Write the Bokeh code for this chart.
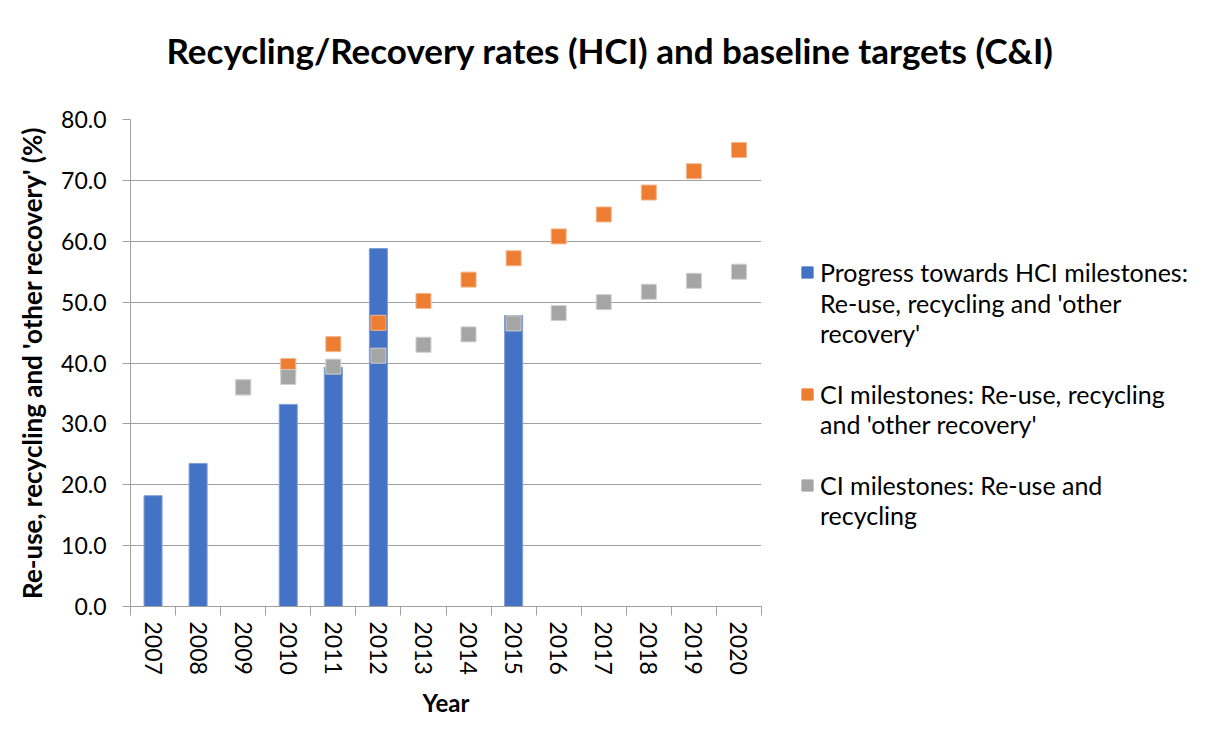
import numpy as np
from bokeh.plotting import figure
from bokeh.models import (ColumnDataSource, FixedTicker, NumeralTickFormatter,
                          Range1d, Legend, LegendItem)
from bokeh.embed import file_html
from bokeh.resources import INLINE

# ---------------- data ----------------
years = ["2007", "2008", "2009", "2010", "2011", "2012", "2013",
         "2014", "2015", "2016", "2017", "2018", "2019", "2020"]

hci_years = ["2007", "2008", "2010", "2011", "2012", "2015"]
hci_values = [18.2, 23.5, 33.2, 39.3, 58.8, 47.8]

ci_years = ["2009", "2010", "2011", "2012", "2013", "2014",
            "2015", "2016", "2017", "2018", "2019", "2020"]
ci_recovery = [36.0, 39.5, 43.1, 46.6, 50.2, 53.7, 57.2, 60.8, 64.4, 68.0, 71.5, 75.0]
ci_recycling = [36.0, 37.7, 39.4, 41.2, 43.0, 44.7, 46.5, 48.2, 50.0, 51.7, 53.5, 55.0]

y_ticks = [0, 10, 20, 30, 40, 50, 60, 70, 80]

title_text = "Recycling/Recovery rates (HCI) and baseline targets (C&I)"
lines_hci = ["Progress towards HCI milestones:", "Re-use, recycling and 'other", "recovery'"]
lines_rec = ["CI milestones: Re-use, recycling", "and 'other recovery'"]
lines_cyc = ["CI milestones: Re-use and", "recycling"]

# ---------------- styling ----------------
FONT = "Lato"
BLUE, ORANGE, GREY = "#4472C4", "#ED7D31", "#A5A5A5"
GRID = "#a0a0a0"
ZW = "\u200b"  # empty filler line (keeps a swatch level with the first text line)

pos = {y: i + 0.5 for i, y in enumerate(years)}

src_hci = ColumnDataSource(dict(x=[pos[y] for y in hci_years], top=hci_values))
src_rec = ColumnDataSource(dict(x=[pos[y] for y in ci_years], y=ci_recovery))
src_cyc = ColumnDataSource(dict(x=[pos[y] for y in ci_years], y=ci_recycling))

p = figure(frame_width=631, frame_height=487,
           x_range=Range1d(0, len(years)), y_range=Range1d(0, 80),
           output_backend="svg", toolbar_location=None,
           min_border_left=130, min_border_right=430,
           min_border_top=119, min_border_bottom=140,
           background_fill_color="white", border_fill_color="white")
p.outline_line_color = None

p.title.text = title_text + "\n" + ZW
p.title.text_font = FONT
p.title.text_font_size = "35px"
p.title.text_font_style = "bold"
p.title.text_color = "black"
p.title.align = "left"
p.title.offset = 36
p.title.standoff = 14

# bars and markers
r_bar = p.vbar(x="x", top="top", width=0.4, source=src_hci,
               fill_color=BLUE, line_color="#7f9fd8", line_width=1)
r_rec = p.scatter(x="x", y="y", source=src_rec, marker="square", size=15,
                  fill_color=ORANGE, line_color="#f6b58c", line_width=1)
r_cyc = p.scatter(x="x", y="y", source=src_cyc, marker="square", size=15,
                  fill_color=GREY, line_color="#cfcfcf", line_width=1)

# y axis
p.yaxis.ticker = FixedTicker(ticks=y_ticks)
p.yaxis.formatter = NumeralTickFormatter(format="0.0")
p.yaxis.axis_label = "Re-use, recycling and 'other recovery' (%)"
p.yaxis.axis_label_text_font = FONT
p.yaxis.axis_label_text_font_size = "26px"
p.yaxis.axis_label_text_font_style = "bold"
p.yaxis.axis_label_text_color = "black"
p.yaxis.axis_label_standoff = 10
p.yaxis.major_label_text_font = FONT
p.yaxis.major_label_text_font_size = "23px"
p.yaxis.major_label_text_color = "black"
p.yaxis.major_label_standoff = 16
p.yaxis.major_tick_out = 8
p.yaxis.major_tick_in = 0
p.yaxis.minor_tick_out = 0
p.yaxis.minor_tick_in = 0
p.yaxis.axis_line_color = GRID
p.yaxis.major_tick_line_color = GRID

# x axis: labels at centers, ticks at category boundaries
p.xaxis.ticker = FixedTicker(ticks=[pos[y] for y in years],
                             minor_ticks=list(range(len(years) + 1)))
p.xaxis.major_label_overrides = {pos[y]: y for y in years}
p.xaxis.major_label_orientation = "vertical"
p.xaxis.major_label_text_font = FONT
p.xaxis.major_label_text_font_size = "23px"
p.xaxis.major_label_text_color = "black"
p.xaxis.major_label_standoff = 6
p.xaxis.major_tick_out = 0
p.xaxis.major_tick_in = 0
p.xaxis.minor_tick_out = 9
p.xaxis.minor_tick_in = 0
p.xaxis.minor_tick_line_color = GRID
p.xaxis.axis_line_color = GRID
p.xaxis.axis_label = "Year"
p.xaxis.axis_label_text_font = FONT
p.xaxis.axis_label_text_font_size = "24px"
p.xaxis.axis_label_text_font_style = "bold"
p.xaxis.axis_label_text_color = "black"
p.xaxis.axis_label_standoff = 10

p.xgrid.visible = False
p.ygrid.ticker = FixedTicker(ticks=y_ticks)
p.ygrid.grid_line_color = GRID
p.ygrid.grid_line_width = 1

# legend swatches: hidden bar renderers sharing the series data
sw_blue = p.vbar(x="x", top="top", width=0.4, source=src_hci,
                 fill_color=BLUE, line_color=BLUE, visible=False)
sw_orange = p.vbar(x="x", top="y", width=0.4, source=src_rec,
                   fill_color=ORANGE, line_color=ORANGE, visible=False)
sw_grey = p.vbar(x="x", top="y", width=0.4, source=src_cyc,
                 fill_color=GREY, line_color=GREY, visible=False)
# renderer without data: legend text rows without a swatch
no_swatch = p.vbar(x=[], top=[], width=0.4, fill_color=None, line_color=None)

legend = Legend(items=[
    LegendItem(label=lines_hci[0], renderers=[sw_blue]),
    LegendItem(label="\n".join(lines_hci[1:]), renderers=[no_swatch]),
    LegendItem(label="\n".join([ZW] + lines_rec), renderers=[sw_orange]),
    LegendItem(label="\n".join([ZW] + lines_cyc), renderers=[sw_grey]),
], location=(39, 76))
legend.label_text_font = FONT
legend.label_text_font_size = "25px"
legend.label_text_color = "black"
legend.glyph_width = 14
legend.glyph_height = 14
legend.label_standoff = 6
legend.padding = 0
legend.margin = 0
legend.spacing = 1
legend.border_line_color = None
legend.background_fill_alpha = 0
legend.inactive_fill_alpha = 0
legend.click_policy = "none"
p.add_layout(legend, "right")

open("out.html", "w").write(file_html(p, INLINE))
